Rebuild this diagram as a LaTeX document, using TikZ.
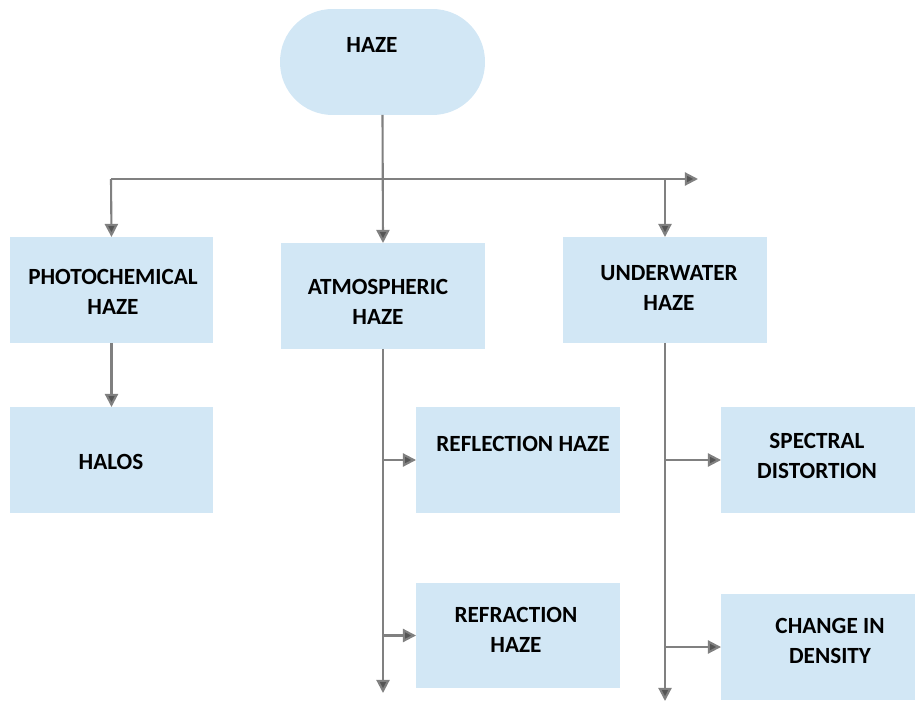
\documentclass[tikz,border=0pt]{standalone}
\usepackage{fontspec}
\setmainfont{Carlito}
\usetikzlibrary{arrows.meta}
\definecolor{boxblue}{RGB}{210,231,245}
\definecolor{linegray}{RGB}{128,128,128}
\definecolor{tipgray}{RGB}{85,85,85}
\tikzset{
  box/.style={fill=boxblue, draw=none, inner sep=0pt, outer sep=0pt, minimum height=2.12cm},
  lbl/.style={font=\fontsize{13.2}{17}\selectfont\bfseries, align=center, inner sep=0pt, text=black},
  arr/.style={draw=linegray, line width=1.2pt, -{Triangle[length=7.5pt,width=7.5pt,fill=tipgray]}},
  ln/.style={draw=linegray, line width=1.2pt}
}
\begin{document}
\begin{tikzpicture}[x=0.02cm,y=-0.02cm]
\useasboundingbox (0,0) rectangle (915,702);
% boxes
\node[box, rounded corners=1.05cm, minimum width=4.1cm] (haze) at (382.5,62) {};
\node[box, minimum width=4.06cm] (photo) at (111.5,290) {};
\node[box, minimum width=4.08cm] (atmo) at (383,296) {};
\node[box, minimum width=4.08cm] (under) at (665,290) {};
\node[box, minimum width=4.06cm] (halos) at (111.5,460) {};
\node[box, minimum width=4.08cm] (refl) at (518,460) {};
\node[box, minimum width=4.08cm, minimum height=2.1cm] (refr) at (518,635.5) {};
\node[box, minimum width=3.88cm] (spec) at (818,460) {};
\node[box, minimum width=3.88cm] (dens) at (818,647) {};
% labels
\node[lbl] (t0) at (372,45) {HAZE};
\node[lbl] (t1) at (113,292) {PHOTOCHEMICAL\\HAZE};
\node[lbl] (t2) at (378,302) {ATMOSPHERIC\\HAZE};
\node[lbl] (t3) at (669,288) {UNDERWATER\\HAZE};
\node[lbl] (t4) at (111,462) {HALOS};
\node[lbl] (t5) at (523,444) {REFLECTION HAZE};
\node[lbl] (t6) at (516,630) {REFRACTION\\HAZE};
\node[lbl] (t7) at (817,456) {SPECTRAL\\DISTORTION};
\node[lbl] (t8) at (830,641) {CHANGE IN\\DENSITY};
% coordinates
\coordinate (hl) at (111,179);
\coordinate (hr) at (698,179);
\coordinate (hu) at (665,179);
\coordinate (aend) at (383,693);
\coordinate (uend) at (665,701);
% connectors
\draw[arr] (haze.south) -- (atmo.north);
\draw[arr] (hl) -- (hr);
\draw[arr] (hl) -- (photo.north);
\draw[arr] (hu) -- (under.north);
\draw[arr] (photo.south) -- (halos.north);
\draw[arr] (atmo.south) -- (aend);
\draw[arr] (atmo.south |- refl.west) -- (refl.west);
\draw[arr] (atmo.south |- refr.west) -- (refr.west);
\draw[arr] (under.south) -- (uend);
\draw[arr] (under.south |- spec.west) -- (spec.west);
\draw[arr] (under.south |- dens.west) -- (dens.west);
\end{tikzpicture}
\end{document}
